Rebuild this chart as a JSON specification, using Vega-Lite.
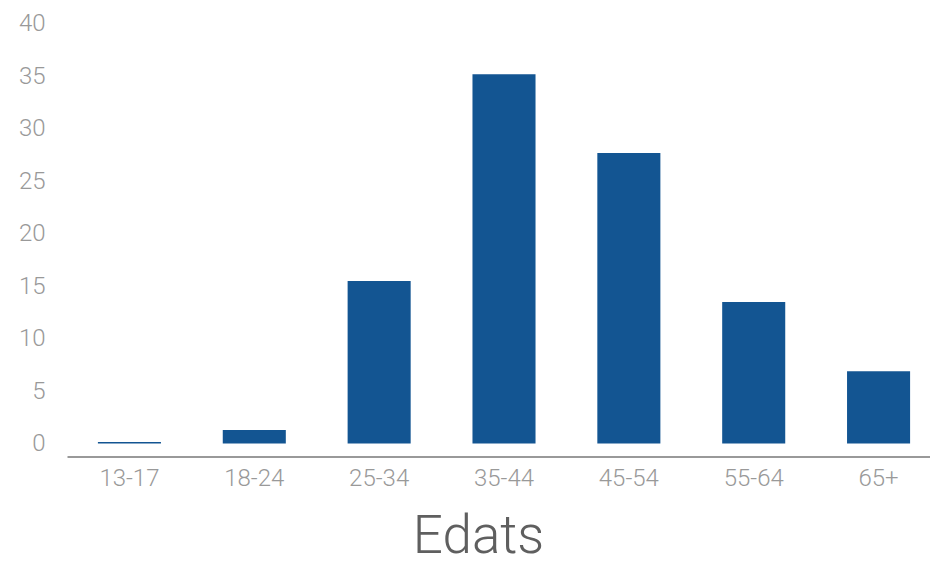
{
  "$schema": "https://vega.github.io/schema/vega-lite/v6.json",
  "autosize": "none",
  "padding": {"left": 67, "top": 24, "right": 0, "bottom": 124},
  "width": 874,
  "height": 419.6,
  "background": "white",
  "config": {"view": {"stroke": null}},
  "data": {"values": [
    {"age": "13-17", "value": 0.15},
    {"age": "18-24", "value": 1.3},
    {"age": "25-34", "value": 15.5},
    {"age": "35-44", "value": 35.2},
    {"age": "45-54", "value": 27.7},
    {"age": "55-64", "value": 13.5},
    {"age": "65+", "value": 6.9}
  ]},
  "mark": {"type": "bar", "color": "#135592"},
  "encoding": {
    "x": {
      "field": "age", "type": "nominal", "sort": null,
      "scale": {"paddingInner": 0.495, "paddingOuter": 0.2475},
      "axis": {
        "title": "Edats", "labelAngle": 0, "offset": 13,
        "domainColor": "#999999", "domainWidth": 2, "ticks": false,
        "labelPadding": 10, "labelFont": "Roboto", "labelFontWeight": 300,
        "labelFontSize": 24, "labelColor": "#999999",
        "titleFont": "Roboto", "titleFontWeight": 300, "titleFontSize": 53,
        "titleColor": "#5f5f5f", "titlePadding": 20, "titleX": 411
      }
    },
    "y": {
      "field": "value", "type": "quantitative",
      "scale": {"domain": [0, 40], "nice": false},
      "axis": {
        "title": null, "values": [0, 5, 10, 15, 20, 25, 30, 35, 40],
        "grid": false, "domain": false, "ticks": false,
        "labelPadding": 22, "labelFont": "Roboto", "labelFontWeight": 300,
        "labelFontSize": 24, "labelColor": "#999999"
      }
    }
  }
}
